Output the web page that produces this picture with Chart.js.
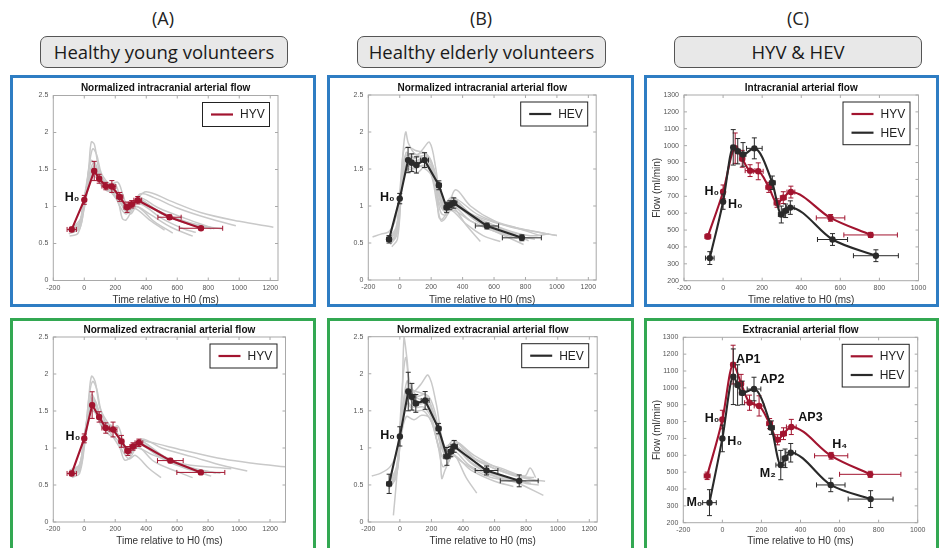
<!DOCTYPE html>
<html>
<head>
<meta charset="utf-8">
<script src="https://cdn.jsdelivr.net/npm/chart.js@4.4.1/dist/chart.umd.min.js"></script>
<style>
  html, body { margin: 0; padding: 0; background: #fff; }
  body { position: relative; width: 939px; height: 548px; overflow: hidden; font-family: "Open Sans", "Noto Sans", sans-serif; }
  .tag { position: absolute; top: 7px; width: 120px; text-align: center; font-size: 18px; line-height: 22px; color: #222; }
  .head { position: absolute; top: 36px; height: 32px; box-sizing: border-box; border: 1.5px solid #555; border-radius: 7px;
          background: #e8e8e8; text-align: center; font-size: 18.5px; line-height: 29px; color: #1a1a1a; }
  .panel { position: absolute; box-sizing: border-box; border: 3px solid; }
  canvas { position: absolute; }
</style>
</head>
<body>
<div class="tag" style="left:103px">(A)</div>
<div class="tag" style="left:421px">(B)</div>
<div class="tag" style="left:738px">(C)</div>
<div class="head" style="left:40px;width:248px">Healthy young volunteers</div>
<div class="head" style="left:357px;width:249px">Healthy elderly volunteers</div>
<div class="head" style="left:674px;width:248px">HYV &amp; HEV</div>

<div class="panel" style="left:10px;top:75px;width:306px;height:232px;border-color:#2e7dc3"></div>
<div class="panel" style="left:327px;top:75px;width:307px;height:232px;border-color:#2e7dc3"></div>
<div class="panel" style="left:644px;top:75px;width:295px;height:232px;border-color:#2e7dc3"></div>
<div class="panel" style="left:10px;top:318px;width:306px;height:240px;border-color:#33a852"></div>
<div class="panel" style="left:327px;top:318px;width:307px;height:240px;border-color:#33a852"></div>
<div class="panel" style="left:644px;top:318px;width:295px;height:240px;border-color:#33a852"></div>

<canvas id="a1"></canvas>
<canvas id="b1"></canvas>
<canvas id="c1"></canvas>
<canvas id="a2"></canvas>
<canvas id="b2"></canvas>
<canvas id="c2"></canvas>

<script>
// ---------- Mean curves (time in ms relative to H0), with SD in flow and in time ----------

// Healthy young volunteers, intracranial, normalized to mean flow
const hyvIntraNormT   = [-81, 0, 64, 96, 139, 178, 229, 276, 306, 345, 550, 753];
const hyvIntraNorm    = [0.69, 1.09, 1.48, 1.375, 1.276, 1.27, 1.13, 0.99, 1.03, 1.085, 0.855, 0.706];
const hyvIntraNormSd  = [0.03, 0.06, 0.13, 0.06, 0.05, 0.08, 0.06, 0.07, 0.05, 0.05, 0.03, 0.02];
const hyvIntraNormTSd = [30, 0, 10, 12, 25, 25, 20, 20, 20, 25, 75, 140];

// Healthy elderly volunteers, intracranial, normalized
const hevIntraNormT   = [-68, 0, 53, 76, 106, 158, 249, 298, 319, 344, 555, 777];
const hevIntraNorm    = [0.55, 1.10, 1.62, 1.585, 1.555, 1.62, 1.28, 0.98, 1.01, 1.04, 0.73, 0.57];
const hevIntraNormSd  = [0.05, 0.07, 0.17, 0.12, 0.11, 0.10, 0.06, 0.07, 0.06, 0.07, 0.04, 0.04];
const hevIntraNormTSd = [15, 0, 10, 12, 15, 25, 15, 15, 15, 20, 74, 124];

// Healthy young volunteers, extracranial, normalized
const hyvExtraNormT   = [-81, 0, 51, 96, 139, 186, 240, 282, 315, 353, 556, 753];
const hyvExtraNorm    = [0.656, 1.13, 1.58, 1.42, 1.27, 1.25, 1.09, 0.96, 1.02, 1.07, 0.83, 0.67];
const hyvExtraNormSd  = [0.03, 0.06, 0.18, 0.07, 0.07, 0.10, 0.08, 0.06, 0.05, 0.05, 0.03, 0.02];
const hyvExtraNormTSd = [30, 0, 10, 12, 25, 25, 15, 20, 20, 25, 83, 155];

// Healthy elderly volunteers, extracranial, normalized
const hevExtraNormT   = [-68, 0, 53, 76, 101, 160, 245, 298, 323, 344, 549, 756];
const hevExtraNorm    = [0.515, 1.155, 1.76, 1.69, 1.60, 1.64, 1.26, 0.885, 0.95, 1.02, 0.695, 0.555];
const hevExtraNormSd  = [0.13, 0.13, 0.26, 0.18, 0.12, 0.12, 0.07, 0.12, 0.07, 0.08, 0.06, 0.08];
const hevExtraNormTSd = [15, 0, 10, 12, 15, 25, 15, 20, 15, 20, 72, 120];

// Absolute flow (ml/min), intracranial
const hyvIntraFlowT   = [-78, 0, 62, 98, 138, 180, 234, 276, 308, 347, 550, 755];
const hyvIntraFlow    = [462, 727, 985, 922, 852, 848, 753, 660, 692, 725, 572, 471];
const hyvIntraFlowSd  = [15, 40, 90, 50, 35, 50, 30, 25, 35, 35, 20, 15];
const hyvIntraFlowTSd = [15, 0, 10, 12, 25, 25, 15, 15, 15, 20, 73, 137];

const hevIntraFlowT   = [-68, 0, 52, 75, 102, 160, 252, 298, 320, 344, 560, 782];
const hevIntraFlow    = [334, 668, 990, 967, 948, 984, 780, 592, 614, 633, 444, 348];
const hevIntraFlowSd  = [38, 45, 105, 75, 70, 62, 40, 50, 40, 40, 35, 35];
const hevIntraFlowTSd = [22, 0, 10, 12, 15, 40, 15, 15, 15, 20, 77, 115];

// Absolute flow (ml/min), extracranial
const hyvExtraFlowT   = [-78, 0, 55, 96, 139, 188, 242, 282, 313, 353, 557, 757];
const hyvExtraFlow    = [478, 812, 1138, 1025, 912, 893, 788, 692, 728, 768, 597, 487];
const hyvExtraFlowSd  = [22, 55, 115, 55, 45, 60, 30, 30, 35, 45, 20, 18];
const hyvExtraFlowTSd = [15, 0, 10, 12, 25, 25, 15, 15, 15, 25, 85, 157];

const hevExtraFlowT   = [-66, 0, 56, 78, 102, 162, 251, 299, 321, 350, 555, 759];
const hevExtraFlow    = [319, 700, 1066, 1017, 970, 993, 764, 542, 582, 615, 424, 340];
const hevExtraFlowSd  = [77, 79, 165, 120, 70, 70, 40, 87, 55, 55, 40, 50];
const hevExtraFlowTSd = [35, 0, 10, 12, 15, 35, 15, 25, 15, 25, 73, 115];

// ---------- Individual subjects (normalized), [time ms, flow] ----------
const hyvIntraSubjects = [
  [[-100,0.63],[-50,0.68],[0,1.0],[30,1.55],[45,1.87],[65,1.84],[95,1.5],[140,1.32],[200,1.3],[240,1.05],[280,0.92],[340,1.1],[400,1.2],[550,1.08],[750,0.92],[1000,0.8],[1220,0.72]],
  [[-95,0.7],[-40,0.72],[0,1.05],[35,1.6],[55,1.78],[80,1.7],[110,1.45],[160,1.3],[210,1.2],[260,0.95],[300,0.95],[360,1.17],[450,1.12],[600,0.98],[800,0.84],[978,0.74]],
  [[-90,0.66],[-30,0.75],[0,1.1],[40,1.45],[65,1.55],[100,1.42],[150,1.28],[215,1.33],[250,1.15],[290,0.95],[350,1.12],[480,0.98],[650,0.84],[839,0.7]],
  [[-100,0.68],[-40,0.7],[0,1.08],[50,1.5],[75,1.45],[120,1.3],[170,1.2],[220,1.05],[245,0.84],[270,0.82],[330,1.0],[420,0.9],[560,0.72],[700,0.6]],
  [[-90,0.72],[-30,0.78],[0,1.12],[45,1.42],[70,1.4],[110,1.35],[160,1.25],[210,1.1],[260,0.98],[300,0.9],[340,1.0],[450,0.8],[571,0.64]],
  [[-85,0.65],[-30,0.7],[0,1.02],[30,1.35],[60,1.5],[95,1.38],[140,1.22],[190,1.18],[230,1.0],[270,0.9],[320,0.98],[420,0.82],[518,0.68]],
  [[-100,0.67],[-40,0.72],[0,1.12],[50,1.52],[85,1.4],[130,1.3],[180,1.27],[230,1.12],[275,1.0],[320,1.06],[360,1.1],[500,0.9],[700,0.76],[890,0.7]],
  [[-80,0.7],[-20,0.85],[10,1.25],[45,1.62],[70,1.55],[110,1.32],[160,1.24],[210,1.18],[260,1.0],[300,1.02],[350,1.08],[500,0.92],[650,0.8],[760,0.74]],
  [[-95,0.6],[-40,0.64],[0,0.98],[40,1.38],[70,1.45],[110,1.28],[170,1.22],[230,1.12],[280,0.96],[330,1.04],[380,1.02],[500,0.84],[640,0.7],[720,0.65]],
  [[-90,0.68],[-35,0.74],[0,1.1],[40,1.5],[65,1.6],[95,1.45],[140,1.3],[190,1.25],[235,1.1],[275,0.98],[320,1.05],[360,1.1],[500,0.9],[680,0.76],[820,0.7]],
  [[-85,0.7],[-30,0.76],[0,1.12],[45,1.45],[70,1.5],[100,1.36],[150,1.26],[200,1.2],[245,1.02],[285,0.95],[335,1.08],[460,0.95],[620,0.8],[760,0.72]]
];

const hevIntraSubjects = [
  [[-173,0.58],[-120,0.62],[-70,0.65],[-30,0.8],[0,1.2],[25,1.75],[50,1.8],[100,1.75],[150,1.72],[200,1.6],[240,1.2],[280,1.0],[340,1.1],[450,0.9],[600,0.78],[800,0.68],[1000,0.6]],
  [[-60,0.48],[-20,0.6],[0,1.0],[20,1.7],[38,2.0],[55,1.85],[100,1.7],[160,1.72],[210,1.55],[250,1.05],[290,0.92],[330,1.02],[450,0.8],[600,0.66],[788,0.48]],
  [[-70,0.52],[-30,0.58],[0,1.1],[30,1.6],[80,1.62],[140,1.75],[190,1.86],[230,1.5],[260,1.05],[300,0.95],[355,1.22],[450,1.0],[600,0.8],[750,0.7],[893,0.6]],
  [[-50,0.45],[-15,0.55],[10,1.15],[35,1.55],[90,1.5],[150,1.55],[200,1.45],[240,1.1],[265,0.9],[300,0.88],[340,0.98],[420,0.75],[513,0.52]],
  [[-65,0.55],[-20,0.7],[5,1.2],[40,1.68],[100,1.65],[160,1.68],[215,1.52],[250,1.2],[280,0.95],[330,1.05],[480,0.85],[650,0.7],[820,0.6],[950,0.62]],
  [[-55,0.5],[-10,0.7],[15,1.3],[50,1.5],[110,1.45],[170,1.55],[220,1.4],[249,0.85],[270,0.82],[320,0.95],[420,0.76],[530,0.6],[640,0.52]],
  [[-75,0.55],[-25,0.65],[5,1.15],[40,1.72],[90,1.6],[150,1.6],[205,1.5],[245,1.25],[285,1.0],[340,1.08],[460,0.88],[620,0.72],[820,0.53]],
  [[-60,0.5],[-20,0.62],[10,1.25],[40,1.58],[100,1.55],[150,1.52],[200,1.42],[235,1.05],[262,0.8],[285,0.82],[330,0.95],[450,0.8],[600,0.66],[750,0.56]],
  [[-70,0.58],[-25,0.7],[0,1.05],[30,1.65],[80,1.7],[140,1.66],[195,1.6],[240,1.3],[275,1.0],[335,1.12],[500,0.88],[700,0.72],[900,0.64],[1000,0.6]],
  [[-65,0.55],[-20,0.68],[5,1.2],[35,1.62],[80,1.6],[140,1.62],[200,1.55],[245,1.2],[290,0.95],[340,1.05],[480,0.82],[650,0.68],[800,0.6]],
  [[-70,0.52],[-25,0.62],[5,1.1],[40,1.55],[90,1.58],[150,1.65],[205,1.5],[250,1.25],[295,0.98],[345,1.02],[500,0.78],[680,0.62],[860,0.55]]
];

const hyvExtraSubjects = [
  [[-95,0.64],[-40,0.7],[0,1.05],[30,1.7],[47,1.97],[70,1.9],[100,1.55],[150,1.3],[200,1.25],[250,1.05],[290,0.98],[350,1.1],[420,1.08],[640,0.97],[900,0.85],[1100,0.79],[1299,0.745]],
  [[-90,0.68],[-35,0.72],[0,1.1],[35,1.75],[55,1.9],[80,1.8],[110,1.5],[160,1.32],[210,1.2],[260,1.0],[300,0.98],[370,1.12],[500,1.0],[700,0.88],[900,0.76],[1053,0.69]],
  [[-85,0.62],[-30,0.7],[0,1.15],[45,1.6],[70,1.58],[110,1.4],[160,1.22],[215,1.3],[250,1.1],[285,0.9],[340,1.0],[450,0.9],[650,0.78],[950,0.72]],
  [[-100,0.66],[-40,0.7],[0,1.12],[50,1.55],[80,1.5],[120,1.35],[170,1.2],[230,1.0],[260,0.84],[300,0.88],[345,1.02],[450,0.82],[600,0.68],[700,0.6]],
  [[-90,0.7],[-30,0.78],[0,1.18],[50,1.65],[85,1.5],[130,1.28],[185,1.25],[240,1.08],[280,0.95],[330,1.02],[380,1.05],[520,0.88],[680,0.72],[820,0.62]],
  [[-80,0.6],[-30,0.66],[5,1.08],[40,1.5],[70,1.48],[110,1.3],[160,1.18],[210,1.12],[250,0.95],[290,0.85],[330,0.9],[420,0.72],[496,0.6]],
  [[-95,0.7],[-35,0.75],[0,1.12],[45,1.72],[75,1.62],[120,1.35],[180,1.3],[235,1.12],[280,1.0],[330,1.08],[370,1.1],[500,0.9],[650,0.76],[850,0.66]],
  [[-85,0.66],[-25,0.78],[10,1.25],[50,1.68],[80,1.55],[120,1.28],[170,1.25],[220,1.15],[270,0.96],[315,1.0],[360,1.06],[480,0.9],[620,0.76],[780,0.66]],
  [[-90,0.66],[-30,0.74],[0,1.12],[45,1.58],[70,1.62],[100,1.45],[150,1.28],[200,1.22],[245,1.06],[285,0.96],[335,1.04],[380,1.08],[520,0.88],[700,0.72],[880,0.66]],
  [[-85,0.64],[-25,0.74],[5,1.15],[50,1.62],[85,1.42],[130,1.28],[190,1.25],[240,1.1],[280,0.94],[320,1.0],[360,1.05],[500,0.86],[660,0.72],[790,0.66]]
];

const hevExtraSubjects = [
  [[-178,0.62],[-120,0.66],[-60,0.75],[-20,0.95],[10,1.5],[27,2.5],[45,2.2],[70,1.8],[120,1.75],[180,1.7],[220,1.5],[260,1.1],[300,0.95],[350,1.08],[450,0.88],[600,0.72],[750,0.62],[850,0.6]],
  [[-41,0.09],[-20,0.6],[0,1.3],[20,1.95],[38,2.22],[60,1.9],[110,1.7],[160,1.72],[210,1.5],[250,1.1],[290,0.9],[340,1.05],[450,0.8],[600,0.62],[750,0.52],[909,0.36]],
  [[-60,0.5],[-20,0.7],[5,1.3],[40,1.8],[80,1.75],[130,1.85],[180,1.98],[230,1.6],[270,1.1],[310,0.95],[360,1.08],[480,0.85],[650,0.72],[790,0.62],[825,0.73],[860,0.6]],
  [[-70,0.45],[-25,0.6],[5,1.1],[40,1.42],[90,1.38],[138,1.44],[190,1.4],[240,1.05],[270,0.75],[300,0.78],[340,0.92],[420,0.6],[487,0.39]],
  [[-65,0.55],[-20,0.72],[10,1.4],[45,1.75],[100,1.62],[160,1.6],[210,1.45],[250,1.2],[265,0.59],[290,0.72],[340,0.9],[450,0.7],[600,0.55],[719,0.48]],
  [[-70,0.52],[-30,0.62],[0,1.15],[35,1.65],[85,1.55],[150,1.62],[200,1.5],[240,1.25],[285,0.98],[340,1.1],[470,0.9],[650,0.7],[846,0.57],[920,0.55]],
  [[-55,0.48],[-15,0.7],[15,1.45],[50,1.7],[100,1.55],[150,1.55],[205,1.38],[245,1.0],[280,0.85],[330,0.98],[450,0.75],[620,0.6],[800,0.52],[880,0.5]],
  [[-75,0.5],[-30,0.58],[5,1.2],[40,1.6],[90,1.5],[150,1.5],[200,1.35],[235,1.1],[275,0.88],[320,0.92],[400,0.8],[550,0.62],[700,0.55]],
  [[-60,0.56],[-20,0.75],[10,1.35],[45,1.9],[80,1.72],[130,1.65],[190,1.58],[235,1.3],[270,1.0],[330,1.05],[500,0.82],[700,0.64],[860,0.56]],
  [[-65,0.52],[-20,0.68],[5,1.2],[45,1.72],[90,1.62],[150,1.62],[200,1.5],[245,1.22],[290,0.9],[340,1.0],[470,0.78],[640,0.62],[800,0.55]],
  [[-70,0.5],[-25,0.64],[5,1.15],[50,1.68],[100,1.58],[160,1.6],[210,1.45],[250,1.15],[300,0.88],[345,1.0],[480,0.75],[660,0.6],[830,0.52]]
];

// ---------- Drawing ----------
const FONT = "'Liberation Sans', Arial, Helvetica, sans-serif";
const RED = '#a2142f';
const DARK = '#2a2a2a';
const GREY = '#c9c9c9';
const CAP = 2.5;

function pts(t, v) { return t.map((x, i) => ({ x, y: v[i] })); }

// mean ± SD bars, drawn just beneath the series they belong to
const errorBars = {
  id: 'errorBars',
  beforeDatasetDraw(chart, args) {
    const ds = chart.data.datasets[args.index];
    if (!ds.errY && !ds.errX) return;
    const { ctx, scales: { x, y } } = chart;
    ctx.save();
    ctx.strokeStyle = ds.borderColor;
    ctx.lineWidth = 1;
    ctx.beginPath();
    ds.data.forEach((p, i) => {
      const px = x.getPixelForValue(p.x), py = y.getPixelForValue(p.y);
      const ey = ds.errY ? ds.errY[i] : 0, ex = ds.errX ? ds.errX[i] : 0;
      if (ey) {
        const y1 = y.getPixelForValue(p.y - ey), y2 = y.getPixelForValue(p.y + ey);
        ctx.moveTo(px, y1); ctx.lineTo(px, y2);
        ctx.moveTo(px - CAP, y1); ctx.lineTo(px + CAP, y1);
        ctx.moveTo(px - CAP, y2); ctx.lineTo(px + CAP, y2);
      }
      if (ex) {
        const x1 = x.getPixelForValue(p.x - ex), x2 = x.getPixelForValue(p.x + ex);
        ctx.moveTo(x1, py); ctx.lineTo(x2, py);
        ctx.moveTo(x1, py - CAP); ctx.lineTo(x1, py + CAP);
        ctx.moveTo(x2, py - CAP); ctx.lineTo(x2, py + CAP);
      }
    });
    ctx.stroke();
    ctx.restore();
  }
};

// axes box with inward tick marks on all four sides
const axesBox = {
  id: 'axesBox',
  afterDatasetsDraw(chart) {
    const { ctx, chartArea: a, scales: { x, y } } = chart;
    const L = 3;
    ctx.save();
    ctx.strokeStyle = '#a9a9a9';
    ctx.lineWidth = 1;
    ctx.strokeRect(a.left, a.top, a.right - a.left, a.bottom - a.top);
    ctx.beginPath();
    x.ticks.forEach(t => {
      const px = x.getPixelForValue(t.value);
      ctx.moveTo(px, a.bottom); ctx.lineTo(px, a.bottom - L);
      ctx.moveTo(px, a.top); ctx.lineTo(px, a.top + L);
    });
    y.ticks.forEach(t => {
      const py = y.getPixelForValue(t.value);
      ctx.moveTo(a.left, py); ctx.lineTo(a.left + L, py);
      ctx.moveTo(a.right, py); ctx.lineTo(a.right - L, py);
    });
    ctx.stroke();
    ctx.restore();
  }
};

// boxed legend in the upper right corner
const boxLegend = {
  id: 'boxLegend',
  afterDraw(chart) {
    const { ctx, chartArea: a } = chart;
    const items = chart.data.datasets.filter(d => d.label);
    const w = 68, row = 18.7, h = 25 + (items.length - 1) * row;
    const left = a.right - 8 - w, top = a.top + 6.5;
    ctx.save();
    ctx.fillStyle = '#fff';
    ctx.fillRect(left, top, w, h);
    ctx.strokeStyle = '#222';
    ctx.lineWidth = 1;
    ctx.strokeRect(left + 0.5, top + 0.5, w - 1, h - 1);
    ctx.font = '12px ' + FONT;
    ctx.textBaseline = 'middle';
    items.forEach((d, i) => {
      const cy = top + 12.5 + i * row;
      ctx.strokeStyle = d.borderColor;
      ctx.lineWidth = 2.2;
      ctx.beginPath(); ctx.moveTo(left + 9, cy); ctx.lineTo(left + 31, cy); ctx.stroke();
      ctx.fillStyle = '#222';
      ctx.fillText(d.label, left + 38, cy + 0.5);
    });
    ctx.restore();
  }
};

// bold labels beside chosen points of a series
const pointNotes = {
  id: 'pointNotes',
  afterDraw(chart, args, opts) {
    if (!opts.items) return;
    const ctx = chart.ctx;
    ctx.save();
    ctx.font = 'bold 12.5px ' + FONT;
    ctx.fillStyle = '#111';
    ctx.textBaseline = 'middle';
    opts.items.forEach(n => {
      const el = chart.getDatasetMeta(n.s).data[n.i];
      ctx.textAlign = n.align;
      ctx.fillText(n.text, el.x + n.dx, el.y + n.dy);
    });
    ctx.restore();
  }
};

function meanSet(label, color, t, v, sd, tsd, smooth, order) {
  return {
    label, data: pts(t, v), errY: sd, errX: tsd,
    borderColor: color, backgroundColor: color, borderWidth: 2.1,
    pointRadius: 3.2, pointBorderWidth: 0, showLine: true,
    tension: smooth ? 0.4 : 0, cubicInterpolationMode: smooth ? 'monotone' : 'default',
    order
  };
}

function subjectSets(list) {
  return list.map(tr => ({
    label: '', data: tr.map(p => ({ x: p[0], y: p[1] })),
    borderColor: GREY, borderWidth: 1.5, pointRadius: 0, showLine: true, tension: 0.35, order: 5
  }));
}

function makeChart(id, g, sets, notes) {
  const [cl, ct, cw, ch] = g.canvas;
  const cvs = document.getElementById(id);
  cvs.width = cw; cvs.height = ch;
  cvs.style.left = cl + 'px'; cvs.style.top = ct + 'px';
  const [pl, pt, pr, pb] = g.plot;
  const lh = 12;
  const tTop = g.titleY - ct - lh / 2;
  const tBot = (pt - ct) - lh - tTop;
  const tickFont = { family: FONT, size: 7 };
  return new Chart(cvs, {
    type: 'scatter',
    data: { datasets: sets },
    options: {
      responsive: false, animation: false, events: [],
      layout: { padding: { left: 0, top: 0, bottom: 0, right: cl + cw - pr } },
      plugins: {
        legend: { display: false }, tooltip: { enabled: false },
        title: { display: true, text: g.title, fullSize: false, color: '#111',
                 font: { family: FONT, size: 10, weight: 'bold', lineHeight: 1.2 },
                 padding: { top: tTop, bottom: tBot } },
        pointNotes: { items: notes }
      },
      scales: {
        x: {
          type: 'linear', min: g.xMin, max: g.xMax,
          grid: { display: false, drawTicks: false }, border: { display: false },
          ticks: { stepSize: 200, includeBounds: false, maxTicksLimit: 40, autoSkip: false, maxRotation: 0,
                   padding: 3, color: '#555', font: tickFont, callback: v => String(v) },
          title: { display: true, text: 'Time relative to H0 (ms)', color: '#333',
                   font: { family: FONT, size: 10, lineHeight: 1.2 },
                   padding: { top: 0, bottom: (ct + ch - g.xTitleY) - lh / 2 } },
          afterFit: s => { s.height = ct + ch - pb; }
        },
        y: {
          type: 'linear', min: g.yMin, max: g.yMax,
          grid: { display: false, drawTicks: false }, border: { display: false },
          ticks: { stepSize: g.yStep, includeBounds: false, maxTicksLimit: 40, autoSkip: false,
                   padding: 5, color: '#555', font: tickFont, callback: v => String(v) },
          title: { display: !!g.yTitle, text: g.yTitle || '', color: '#333',
                   font: { family: FONT, size: 10, lineHeight: 1.2 },
                   padding: { top: (g.yTitleX || 0) - cl - lh / 2, bottom: 0 } },
          afterFit: s => { s.width = pl - cl; }
        }
      }
    },
    plugins: [errorBars, axesBox, boxLegend, pointNotes]
  });
}

const H0 = 'H\u2080';

makeChart('a1',
  { canvas: [10, 75, 306, 232], plot: [53.3, 95.5, 278, 280.5], titleY: 88, xTitleY: 300,
    title: 'Normalized intracranial arterial flow', xMin: -200, xMax: 1250, yMin: 0, yMax: 2.5, yStep: 0.5 },
  [meanSet('HYV', RED, hyvIntraNormT, hyvIntraNorm, hyvIntraNormSd, hyvIntraNormTSd, false, 0),
   ...subjectSets(hyvIntraSubjects)],
  [{ s: 0, i: 1, text: H0, dx: -5, dy: -2, align: 'right' }]);

makeChart('b1',
  { canvas: [327, 75, 307, 232], plot: [368.3, 95, 596.2, 280], titleY: 88, xTitleY: 300,
    title: 'Normalized intracranial arterial flow', xMin: -200, xMax: 1250, yMin: 0, yMax: 2.5, yStep: 0.5 },
  [meanSet('HEV', DARK, hevIntraNormT, hevIntraNorm, hevIntraNormSd, hevIntraNormTSd, false, 0),
   ...subjectSets(hevIntraSubjects)],
  [{ s: 0, i: 1, text: H0, dx: -5, dy: -1, align: 'right' }]);

makeChart('c1',
  { canvas: [644, 75, 295, 232], plot: [684, 95, 918.5, 280.7], titleY: 88, xTitleY: 300, yTitle: 'Flow (ml/min)', yTitleX: 657,
    title: 'Intracranial arterial flow', xMin: -200, xMax: 1000, yMin: 200, yMax: 1300, yStep: 100 },
  [meanSet('HYV', RED, hyvIntraFlowT, hyvIntraFlow, hyvIntraFlowSd, hyvIntraFlowTSd, true, 1),
   meanSet('HEV', DARK, hevIntraFlowT, hevIntraFlow, hevIntraFlowSd, hevIntraFlowTSd, true, 0)],
  [{ s: 0, i: 1, text: H0, dx: -4, dy: 0, align: 'right' },
   { s: 1, i: 1, text: H0, dx: 5, dy: 2.5, align: 'left' }]);

makeChart('a2',
  { canvas: [10, 318, 306, 230], plot: [53.3, 337, 285.5, 522], titleY: 330, xTitleY: 541.7,
    title: 'Normalized extracranial arterial flow', xMin: -200, xMax: 1300, yMin: 0, yMax: 2.5, yStep: 0.5 },
  [meanSet('HYV', RED, hyvExtraNormT, hyvExtraNorm, hyvExtraNormSd, hyvExtraNormTSd, false, 0),
   ...subjectSets(hyvExtraSubjects)],
  [{ s: 0, i: 1, text: H0, dx: -4, dy: -2, align: 'right' }]);

makeChart('b2',
  { canvas: [327, 318, 307, 230], plot: [368.3, 336.7, 597.2, 522], titleY: 330, xTitleY: 541.7,
    title: 'Normalized extracranial arterial flow', xMin: -200, xMax: 1250, yMin: 0, yMax: 2.5, yStep: 0.5 },
  [meanSet('HEV', DARK, hevExtraNormT, hevExtraNorm, hevExtraNormSd, hevExtraNormTSd, false, 0),
   ...subjectSets(hevExtraSubjects)],
  [{ s: 0, i: 1, text: H0, dx: -5, dy: -1, align: 'right' }]);

makeChart('c2',
  { canvas: [644, 318, 295, 230], plot: [683.3, 337.3, 917.7, 522.7], titleY: 330, xTitleY: 541.7, yTitle: 'Flow (ml/min)', yTitleX: 657,
    title: 'Extracranial arterial flow', xMin: -200, xMax: 1000, yMin: 200, yMax: 1300, yStep: 100 },
  [meanSet('HYV', RED, hyvExtraFlowT, hyvExtraFlow, hyvExtraFlowSd, hyvExtraFlowTSd, true, 1),
   meanSet('HEV', DARK, hevExtraFlowT, hevExtraFlow, hevExtraFlowSd, hevExtraFlowTSd, true, 0)],
  [{ s: 0, i: 1, text: H0, dx: -3, dy: -1, align: 'right' },
   { s: 1, i: 1, text: H0, dx: 5, dy: 3, align: 'left' },
   { s: 0, i: 2, text: 'AP1', dx: 3, dy: -5, align: 'left' },
   { s: 1, i: 5, text: 'AP2', dx: 6, dy: -9, align: 'left' },
   { s: 0, i: 9, text: 'AP3', dx: 7, dy: -9, align: 'left' },
   { s: 0, i: 10, text: 'H\u2084', dx: 1, dy: -11, align: 'left' },
   { s: 1, i: 7, text: 'M\u2082', dx: -5, dy: 8, align: 'right' },
   { s: 1, i: 0, text: 'M\u2080', dx: -7, dy: 0, align: 'right' }]);
</script>
</body>
</html>
